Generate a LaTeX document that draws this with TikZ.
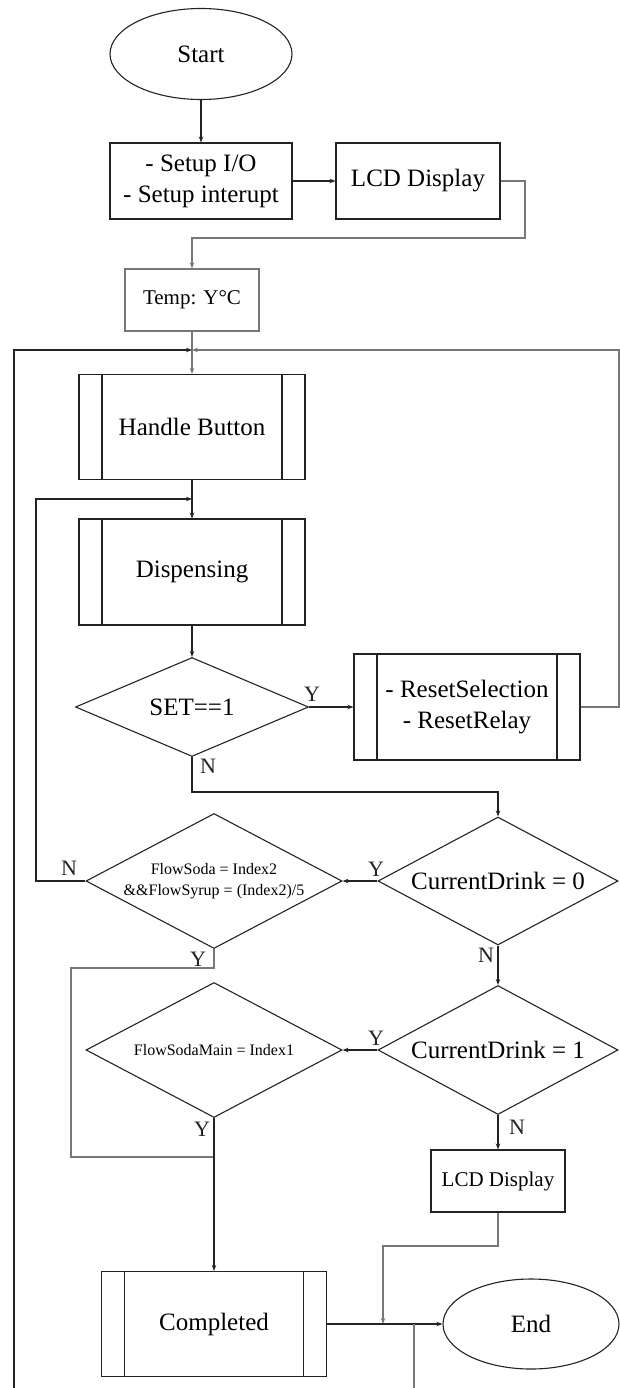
\documentclass[tikz,border=0pt]{standalone}
\usepackage{fontspec}
\setmainfont{Liberation Serif}
\usetikzlibrary{arrows.meta,shapes.geometric}
\definecolor{ink}{RGB}{35,35,35}
\definecolor{ash}{RGB}{120,120,120}
\tikzset{
  >={Stealth[length=6pt,width=4.5pt]},
  wire/.style={draw=#1,line width=1.1pt},
  wire/.default=ink,
  flow/.style={wire=#1,->},
  flow/.default=ink,
  big/.style={font=\fontsize{25}{31}\selectfont},
  small/.style={font=\fontsize{21}{25}\selectfont},
  tiny/.style={font=\fontsize{16}{21}\selectfont},
  term/.style={ellipse,draw=ink,line width=1.1pt,inner sep=0pt,big},
  proc/.style={rectangle,draw=#1,line width=1.1pt,inner sep=0pt,align=center,big},
  proc/.default=ink,
  % predefined process: box with two inner side bars
  sub/.style={proc,path picture={
    \draw[ink,line width=1.1pt]
      ([xshift=23pt]path picture bounding box.north west) -- ([xshift=23pt]path picture bounding box.south west)
      ([xshift=-23pt]path picture bounding box.north east) -- ([xshift=-23pt]path picture bounding box.south east);
  }},
  dec/.style={diamond,aspect=1.9,draw=ink,line width=1.1pt,inner sep=0pt,align=center,big},
  tag/.style={font=\fontsize{22}{22}\selectfont,inner sep=0pt,text=ink},
}
\begin{document}
\begin{tikzpicture}[x=1pt,y=-1pt]
  \useasboundingbox (0,0) rectangle (620,1388);
  \node[term,minimum width=182pt,minimum height=91pt] (start) at (201,54) {Start};
  \node[proc,minimum width=182pt,minimum height=76pt] (setup) at (201,181) {- Setup I/O\\- Setup interupt};
  \node[proc,minimum width=164pt,minimum height=76pt] (lcd1) at (418,181) {LCD Display};
  \node[proc=ash,small,minimum width=134pt,minimum height=62pt] (temp) at (192,300) {Temp: Y°C};
  \node[sub,minimum width=226pt,minimum height=105pt] (hb) at (192,427) {Handle Button};
  \node[sub,minimum width=226pt,minimum height=106pt] (disp) at (192,572) {Dispensing};
  \node[dec,minimum width=233pt,minimum height=99pt] (set) at (192,707) {SET==1};
  \node[sub,minimum width=226pt,minimum height=106pt] (reset) at (467,707) {- ResetSelection\\- ResetRelay};
  \node[dec,minimum width=240pt,minimum height=128pt] (cd0) at (498,881) {CurrentDrink = 0};
  \node[dec,tiny,minimum width=256pt,minimum height=135pt] (fs) at (214,881) {FlowSoda = Index2\\\&\&FlowSyrup = (Index2)/5};
  \node[dec,minimum width=240pt,minimum height=129pt] (cd1) at (498,1050) {CurrentDrink = 1};
  \node[dec,tiny,minimum width=256pt,minimum height=135pt] (fsm) at (214,1050) {FlowSodaMain = Index1};
  \node[proc,small,minimum width=134pt,minimum height=62pt] (lcd2) at (498,1181) {LCD Display};
  \node[sub,minimum width=225pt,minimum height=105pt] (comp) at (214,1324) {Completed};
  \node[term,minimum width=176pt,minimum height=90pt] (end) at (531,1324) {End};

  \node[tag] (ys) at (312,694) {Y};
  \node[tag] (ns) at (208,766) {N};
  \node[tag] (y0) at (376,869) {Y};
  \node[tag] (nf) at (69,868) {N};
  \node[tag] (yf) at (198,959) {Y};
  \node[tag] (n0) at (486,955) {N};
  \node[tag] (y1) at (376,1038) {Y};
  \node[tag] (ym) at (202,1129) {Y};
  \node[tag] (n1) at (517,1127) {N};

  \coordinate (m1) at (192,350);
  \coordinate (m2) at (192,499);
  \coordinate (c1) at (525,238);
  \coordinate (rc) at (619,350);
  \coordinate (lb) at (14,1388);
  \coordinate (c2) at (192,792);
  \coordinate (c3) at (36,499);
  \coordinate (c4) at (71,968);
  \coordinate (c5) at (214,1157);
  \coordinate (c6) at (383,1246);
  \coordinate (c7) at (383,1324);
  \coordinate (c8) at (414,1388);
  \coordinate (c9) at (414,1324);

  \draw[flow] (start) -- (setup);
  \draw[flow] (setup) -- (lcd1);
  \draw[flow=ash] (lcd1.east) -| (c1) -| (temp.north);
  \draw[flow=ash] (temp.south) -- (hb.north);
  \draw[flow] (lb) |- (m1);
  \draw[flow=ash] (reset.east) -| (rc) -- (m1);
  \draw[flow] (hb) -- (disp);
  \draw[flow] (fs.west) -| (c3) -- (m2);
  \draw[flow] (disp) -- (set);
  \draw[flow] (set) -- (reset);
  \draw[flow] (set.south) -- (c2) -| (cd0.north);
  \draw[flow] (cd0) -- (fs);
  \draw[flow] (cd0) -- (cd1);
  \draw[flow] (cd1) -- (fsm);
  \draw[wire=ash] (fs.south) |- (c4) |- (c5);
  \draw[flow] (fsm) -- (comp);
  \draw[flow] (cd1) -- (lcd2);
  \draw[flow=ash] (lcd2.south) |- (c6) -- (c7);
  \draw[flow] (comp) -- (end);
  \draw[wire=ash] (c8) -- (c9);
\end{tikzpicture}
\end{document}
